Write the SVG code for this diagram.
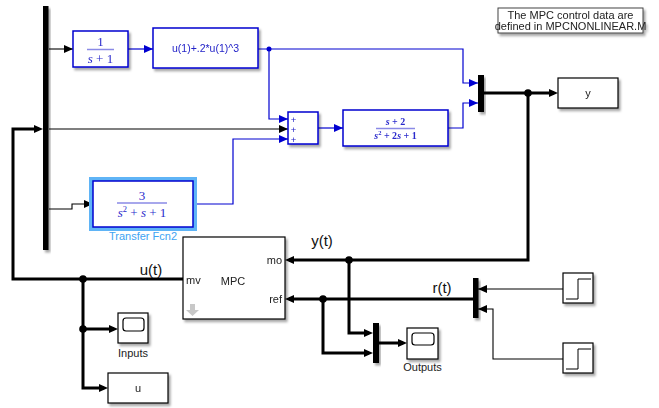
<svg xmlns="http://www.w3.org/2000/svg" width="659" height="408" viewBox="0 0 659 408">
<defs>
<filter id="sh" x="-20%" y="-20%" width="150%" height="160%">
<feDropShadow dx="2" dy="2.5" stdDeviation="1.3" flood-color="#000" flood-opacity="0.35"/>
</filter>
<marker id="ak" markerUnits="userSpaceOnUse" markerWidth="9" markerHeight="8" refX="9" refY="4" orient="auto"><path d="M0,0L9,4L0,8z" fill="#000"/></marker>
<marker id="ab" markerUnits="userSpaceOnUse" markerWidth="9" markerHeight="8" refX="9" refY="4" orient="auto"><path d="M0,0L9,4L0,8z" fill="#0000d0"/></marker>
<marker id="aT" markerUnits="userSpaceOnUse" markerWidth="9" markerHeight="8" refX="5" refY="4" orient="auto"><path d="M0,0L9,4L0,8z" fill="#000"/></marker>
</defs>
<style>
.blk{fill:#fff;stroke:#000;stroke-width:1.2}
.bblk{fill:#fff;stroke:#0000d0;stroke-width:1.5}
.bar{fill:#000}
.bus{fill:none;stroke:#000;stroke-width:3}
.thin{fill:none;stroke:#000;stroke-width:1.1}
.blue{fill:none;stroke:#0000d0;stroke-width:1.2}
.t{font-family:"Liberation Sans",Arial,sans-serif;font-size:11px;fill:#222}
.tb{font-family:"Liberation Sans",Arial,sans-serif;fill:#2424c8}
.lab{font-family:"Liberation Sans",Arial,sans-serif;font-size:15px;fill:#111}
.frac{font-family:"Liberation Serif","Times New Roman",serif;font-style:italic;fill:#2a2acc}
.num{font-family:"Liberation Serif","Times New Roman",serif;fill:#2a2acc}
.fl{stroke:#8a8ae6;stroke-width:1.5}
.dot{fill:#000}
</style>
<rect width="659" height="408" fill="#fff"/>

<g id="connectors">
<path class="thin" d="M49,49H73" marker-end="url(#ak)"/>
<path class="blue" d="M128,49H153" marker-end="url(#ab)"/>
<path class="blue" d="M258,49H463V83H478" marker-end="url(#ab)"/>
<path class="blue" d="M269,49V119H288" marker-end="url(#ab)"/>
<circle cx="269" cy="49" r="2.5" fill="#0000d0"/>
<path class="thin" d="M49,129H288" marker-end="url(#ak)"/>
<path class="thin" d="M49,209H72V204H93" marker-end="url(#ak)"/>
<path class="blue" d="M195,204H233V139H288" marker-end="url(#ab)"/>
<path class="blue" d="M318,128H343" marker-end="url(#ab)"/>
<path class="blue" d="M448,128H463V103H478" marker-end="url(#ab)"/>
<path class="bus" d="M484,93H554" marker-end="url(#aT)"/>
<path class="bus" d="M528,93V260H289" marker-end="url(#aT)"/>
<circle class="dot" cx="528" cy="93" r="3.8"/>
<path class="bus" d="M349,260V333H369" marker-end="url(#aT)"/>
<circle class="dot" cx="349" cy="260" r="3.8"/>
<path class="bus" d="M473,299H289" marker-end="url(#aT)"/>
<path class="bus" d="M323,299V353H369" marker-end="url(#aT)"/>
<circle class="dot" cx="323" cy="299" r="3.8"/>
<path class="bus" d="M379,343H403" marker-end="url(#aT)"/>
<path class="thin" d="M563,289H478" marker-end="url(#ak)"/>
<path class="thin" d="M563,359H493V309H478" marker-end="url(#ak)"/>
<path class="bus" d="M183,279H13V129H39" marker-end="url(#aT)"/>
<path class="bus" d="M83,279V388H104" marker-end="url(#aT)"/>
<circle class="dot" cx="83" cy="279" r="3.8"/>
<path class="bus" d="M83,329H114" marker-end="url(#aT)"/>
<circle class="dot" cx="83" cy="329" r="3.8"/>
<text class="lab" x="322" y="246" text-anchor="middle">y(t)</text>
<text class="lab" x="151" y="275" text-anchor="middle">u(t)</text>
<text class="lab" x="442" y="293" text-anchor="middle">r(t)</text>
</g>

<g id="demux" filter="url(#sh)"><rect class="bar" x="43" y="6" width="5.5" height="244"/></g>

<g id="tf1" filter="url(#sh)">
<rect class="bblk" x="73" y="31" width="55" height="36"/>
<text class="num" x="100.5" y="46" font-size="13" text-anchor="middle">1</text>
<line class="fl" x1="87" y1="49.5" x2="114" y2="49.5"/>
<text class="frac" x="100.5" y="63" font-size="13" text-anchor="middle">s <tspan font-style="normal">+ 1</tspan></text>
</g>

<g id="fcn" filter="url(#sh)">
<rect class="bblk" x="153" y="28" width="105" height="40"/>
<text class="tb" x="205.5" y="52" font-size="10.5" text-anchor="middle">u(1)+.2*u(1)^3</text>
</g>

<g id="sum" filter="url(#sh)">
<rect class="bblk" x="288" y="112" width="30" height="32"/>
<text class="tb" x="293.5" y="122.5" font-size="9.5" text-anchor="middle">+</text>
<text class="tb" x="293.5" y="132.5" font-size="9.5" text-anchor="middle">+</text>
<text class="tb" x="293.5" y="142.5" font-size="9.5" text-anchor="middle">+</text>
</g>

<g id="tf3" filter="url(#sh)">
<rect class="bblk" x="343" y="110" width="105" height="36"/>
<text class="frac" x="395.5" y="125" font-size="10" text-anchor="middle" font-weight="bold">s <tspan font-style="normal">+ 2</tspan></text>
<line class="fl" x1="376" y1="128.5" x2="415" y2="128.5" stroke-width="1"/>
<text class="frac" x="395.5" y="139" font-size="10" text-anchor="middle" font-weight="bold">s<tspan font-size="6.5" dy="-4" font-style="normal">2</tspan><tspan dy="4" font-style="normal"> + 2</tspan>s<tspan font-style="normal"> + 1</tspan></text>
</g>

<g id="tf2">
<rect x="91" y="179" width="104" height="50" fill="none" stroke="#5fb4f6" stroke-width="4"/>
<rect class="bblk" x="93" y="181" width="100" height="46"/>
<text class="num" x="142" y="200" font-size="13" text-anchor="middle">3</text>
<line class="fl" x1="117" y1="203" x2="167" y2="203" stroke-width="2"/>
<text class="frac" x="142" y="217" font-size="13" text-anchor="middle">s<tspan font-size="8.5" dy="-5" font-style="normal">2</tspan><tspan dy="5" font-style="normal"> + </tspan>s<tspan font-style="normal"> + 1</tspan></text>
<text x="143" y="240" font-family="Liberation Sans, Arial, sans-serif" font-size="11" fill="#3ea3f2" text-anchor="middle">Transfer Fcn2</text>
</g>

<g id="mux1" filter="url(#sh)"><rect class="bar" x="478" y="75" width="6" height="37"/></g>

<g id="yout" filter="url(#sh)">
<rect class="blk" x="558" y="78" width="60" height="30"/>
<text class="t" x="588" y="97" text-anchor="middle">y</text>
</g>

<g id="note" filter="url(#sh)">
<rect x="498" y="8" width="145" height="25" fill="#fff" stroke="#444" stroke-width="1"/>
<text class="t" x="570.5" y="18.5" font-size="9.3" text-anchor="middle">The MPC control data are</text>
<text class="t" x="570.5" y="29.5" font-size="9.3" text-anchor="middle">defined in MPCNONLINEAR.M</text>
</g>

<g id="mpc" filter="url(#sh)">
<rect class="blk" x="183" y="237" width="102" height="82"/>
<text class="t" x="282" y="264" font-size="10" text-anchor="end">mo</text>
<text class="t" x="282" y="303" font-size="10" text-anchor="end">ref</text>
<text class="t" x="186" y="284" font-size="10">mv</text>
<text class="t" x="233" y="285" font-size="11" text-anchor="middle">MPC</text>
<path d="M190,304h5v6h4l-6.5,6l-6.5,-6h4z" fill="#c8c8c8"/>
</g>

<g id="inputs">
<g filter="url(#sh)">
<rect class="blk" x="118" y="313" width="30" height="30"/>
<rect x="123" y="318" width="21" height="13" rx="3" fill="none" stroke="#000" stroke-width="1.2"/>
</g>
<text class="t" x="133" y="357" font-size="10" text-anchor="middle">Inputs</text>
</g>

<g id="ublock" filter="url(#sh)">
<rect class="blk" x="108" y="373" width="60" height="30"/>
<text class="t" x="138" y="392" text-anchor="middle">u</text>
</g>

<g id="mux2" filter="url(#sh)"><rect class="bar" x="373" y="323" width="6" height="40"/></g>

<g id="outputs">
<g filter="url(#sh)">
<rect class="blk" x="407" y="328" width="31" height="31"/>
<rect x="412" y="333" width="22" height="12" rx="3" fill="none" stroke="#000" stroke-width="1.2"/>
</g>
<text class="t" x="422.5" y="371" font-size="10" text-anchor="middle">Outputs</text>
</g>

<g id="muxr" filter="url(#sh)"><rect class="bar" x="473" y="278" width="5.5" height="40"/></g>

<g id="step1" filter="url(#sh)">
<rect class="blk" x="563" y="273" width="30" height="30"/>
<path d="M566,299H578V279H591" fill="none" stroke="#000" stroke-width="1"/>
</g>

<g id="step2" filter="url(#sh)">
<rect class="blk" x="563" y="343" width="30" height="30"/>
<path d="M566,369H578V349H591" fill="none" stroke="#000" stroke-width="1"/>
</g>
</svg>
